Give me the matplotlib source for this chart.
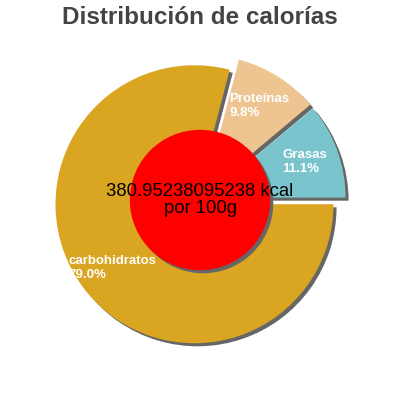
import matplotlib
matplotlib.use('Agg')
import matplotlib.pyplot as plt

plt.rcParams['font.family'] = ['Liberation Sans', 'DejaVu Sans']

# datos
nombres = ['Grasas', 'Proteínas', 'carbohidratos']
porcentajes = [11.1, 9.8, 79.0]
colores = ['#7AC5CD', '#EEC591', '#DAA520']
kcal = '380.95238095238'
titulo = 'Distribución de calorías'

etiquetas = [f'{n}\n{p:.1f}%' for n, p in zip(nombres, porcentajes)]
explode = [0.05] * len(porcentajes)

fig = plt.figure(figsize=(4, 4), dpi=100)
ax = fig.add_axes([0, 0, 1, 1])
lim = 200 / 139

# sombra
sh = 0.022
ax.pie(porcentajes, explode=explode, colors=['#666666'] * 3, startangle=0,
       counterclock=True, center=(sh, -sh), radius=1, frame=True)
wedges, texts = ax.pie(porcentajes, explode=explode, colors=colores, labels=etiquetas,
                       labeldistance=0.75, startangle=0, counterclock=True,
                       radius=1, frame=True,
                       textprops=dict(color='white', fontweight='bold', fontsize=9.5,
                                      ha='center', va='center', multialignment='left'))
ax.set_xlim(-lim, lim)
ax.set_ylim(-lim, lim)
ax.set_aspect('equal')
ax.axis('off')

# circulo central
ax.add_patch(plt.Circle((sh, -sh), 0.5, color='#666666', zorder=3))
ax.add_patch(plt.Circle((0, 0), 0.5, color='red', zorder=4))
ax.text(0, 0, f'{kcal} kcal\npor 100g', ha='center', va='center', fontsize=13.3,
        color='black', zorder=5, linespacing=1.0)

fig.text(0.5, 0.955, titulo, ha='center', va='center', fontsize=17.5,
         fontweight='bold', color='#444444')

fig.savefig('out.png', dpi=100)
